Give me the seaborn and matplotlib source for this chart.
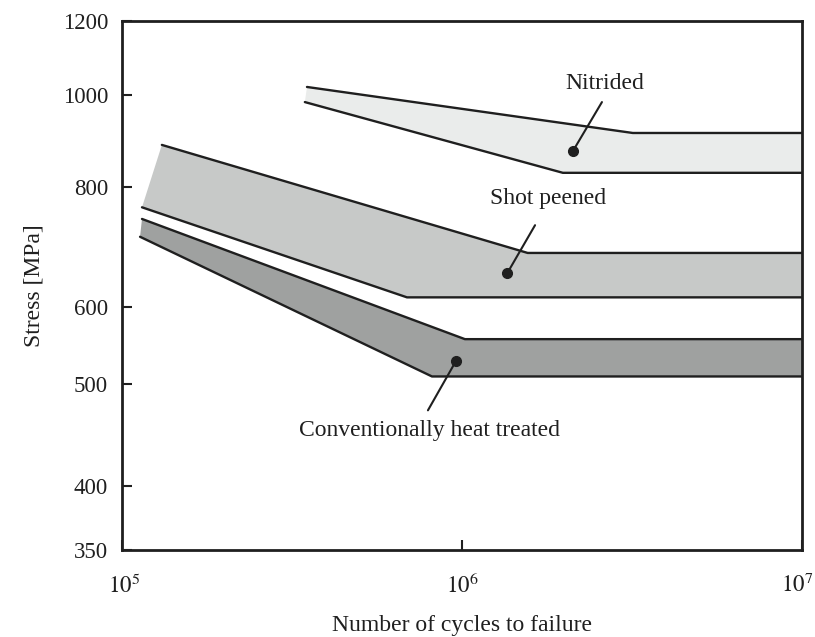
import numpy as np
import pandas as pd
import matplotlib
matplotlib.use("Agg")
import matplotlib.pyplot as plt
import matplotlib.transforms as mtransforms
import seaborn as sns

# ---------------- data ----------------
nit_upper_x = [3.50e5, 3.18e6, 1.0e7]
nit_upper_y = [1020, 912, 912]
nit_lower_x = [3.45e5, 1.98e6, 1.0e7]
nit_lower_y = [983, 828, 828]

shot_upper_x = [1.31e5, 1.56e6, 1.0e7]
shot_upper_y = [886, 683, 683]
shot_lower_x = [1.145e5, 6.89e5, 1.0e7]
shot_lower_y = [762, 614, 614]

conv_upper_x = [1.145e5, 1.02e6, 1.0e7]
conv_upper_y = [741, 556, 556]
conv_lower_x = [1.13e5, 8.16e5, 1.0e7]
conv_lower_y = [710, 509, 509]

labels = ["Nitrided", "Shot peened", "Conventionally heat treated"]
dot_x = [2.12e6, 1.36e6, 9.6e5]
dot_y = [873, 651, 528]
leader_x = [2.58e6, 1.64e6, 7.94e5]
leader_y = [983, 730, 472]
label_x = [2.63e6, 1.79e6, 8.05e5]
label_y = [1028, 779, 452]

y_ticks = [350, 400, 500, 600, 800, 1000, 1200]
x_ticks = [1e5, 1e6, 1e7]
x_ticklabels = [r"$10^5$", r"$10^6$", r"$10^7$"]

# ---------------- style ----------------
sns.set_theme(style="white")
plt.rcParams["font.family"] = ["Liberation Serif", "DejaVu Serif"]
plt.rcParams["mathtext.fontset"] = "stix"
FS = 17
TFS = 16.5
INK = "#1f1f1f"

fig = plt.figure(figsize=(8.15, 6.37), dpi=100)
ax = fig.add_axes([122 / 815, 1 - 550 / 637, (802 - 122) / 815, (550 - 21) / 637])

# stress axis of the original is a hand-drawn, roughly logarithmic scale:
# tick fractions along the axis height
tick_frac = np.array([0.0, 0.121, 0.3138, 0.4594, 0.6862, 0.8601, 1.0])
log_ticks = np.log(np.array(y_ticks, dtype=float))


def fwd(v):
    v = np.clip(np.asarray(v, dtype=float), 1e-9, None)
    return np.interp(np.log(v), log_ticks, tick_frac)


def inv(u):
    return np.exp(np.interp(np.asarray(u, dtype=float), tick_frac, log_ticks))


ax.set_xscale("log")
ax.set_yscale("function", functions=(fwd, inv))
ax.set_xlim(1e5, 1e7)
ax.set_ylim(350, 1200)

bands = [
    (nit_upper_x, nit_upper_y, nit_lower_x, nit_lower_y, "#eaeceb"),
    (shot_upper_x, shot_upper_y, shot_lower_x, shot_lower_y, "#c7c9c8"),
    (conv_upper_x, conv_upper_y, conv_lower_x, conv_lower_y, "#9fa1a0"),
]
for ux, uy, lx, ly, col in bands:
    px = list(ux) + list(lx[::-1])
    py = list(uy) + list(ly[::-1])
    ax.fill(px, py, color=col, lw=0, zorder=1)
    for xs, ys in ((ux, uy), (lx, ly)):
        df = pd.DataFrame({"N": xs, "S": ys})
        sns.lineplot(data=df, x="N", y="S", ax=ax, color=INK, lw=1.7,
                     sort=False, estimator=None, zorder=3)

# annotations
for i, lab in enumerate(labels):
    ax.plot([dot_x[i], leader_x[i]], [dot_y[i], leader_y[i]],
            color=INK, lw=1.5, zorder=4)
    ax.plot([dot_x[i]], [dot_y[i]], "o", color=INK, ms=7, zorder=5)
    ax.text(label_x[i], label_y[i], lab, ha="center", va="center",
            fontsize=FS, color=INK, zorder=6)

# axes styling
ax.set_yticks(y_ticks)
ax.set_yticklabels([str(v) for v in y_ticks])
ax.yaxis.set_minor_locator(matplotlib.ticker.NullLocator())
ax.set_xticks(x_ticks)
ax.set_xticklabels(x_ticklabels)
ax.xaxis.set_minor_locator(matplotlib.ticker.NullLocator())
ax.tick_params(axis="y", direction="in", length=7, width=1.5, color=INK,
               labelsize=TFS, labelcolor=INK, pad=10, left=True)
ax.tick_params(axis="x", direction="in", length=7, width=1.5, color=INK,
               labelsize=TFS, labelcolor=INK, pad=17, bottom=True)
for sp in ax.spines.values():
    sp.set_linewidth(2.0)
    sp.set_color(INK)
    sp.set_visible(True)

# nudge the outer x tick labels inward a little so they stay on the canvas
xl = ax.get_xticklabels()
xl[0].set_transform(xl[0].get_transform() +
                    mtransforms.ScaledTranslation(2 / 100, 0, fig.dpi_scale_trans))
xl[-1].set_transform(xl[-1].get_transform() +
                     mtransforms.ScaledTranslation(-5 / 100, 0, fig.dpi_scale_trans))

ax.set_xlabel("Number of cycles to failure", fontsize=FS, color=INK, labelpad=12)
ax.set_ylabel("Stress [MPa]", fontsize=FS, color=INK, labelpad=13)
ax.grid(False)
ax.set_facecolor("white")

fig.savefig("out.png", dpi=100)
